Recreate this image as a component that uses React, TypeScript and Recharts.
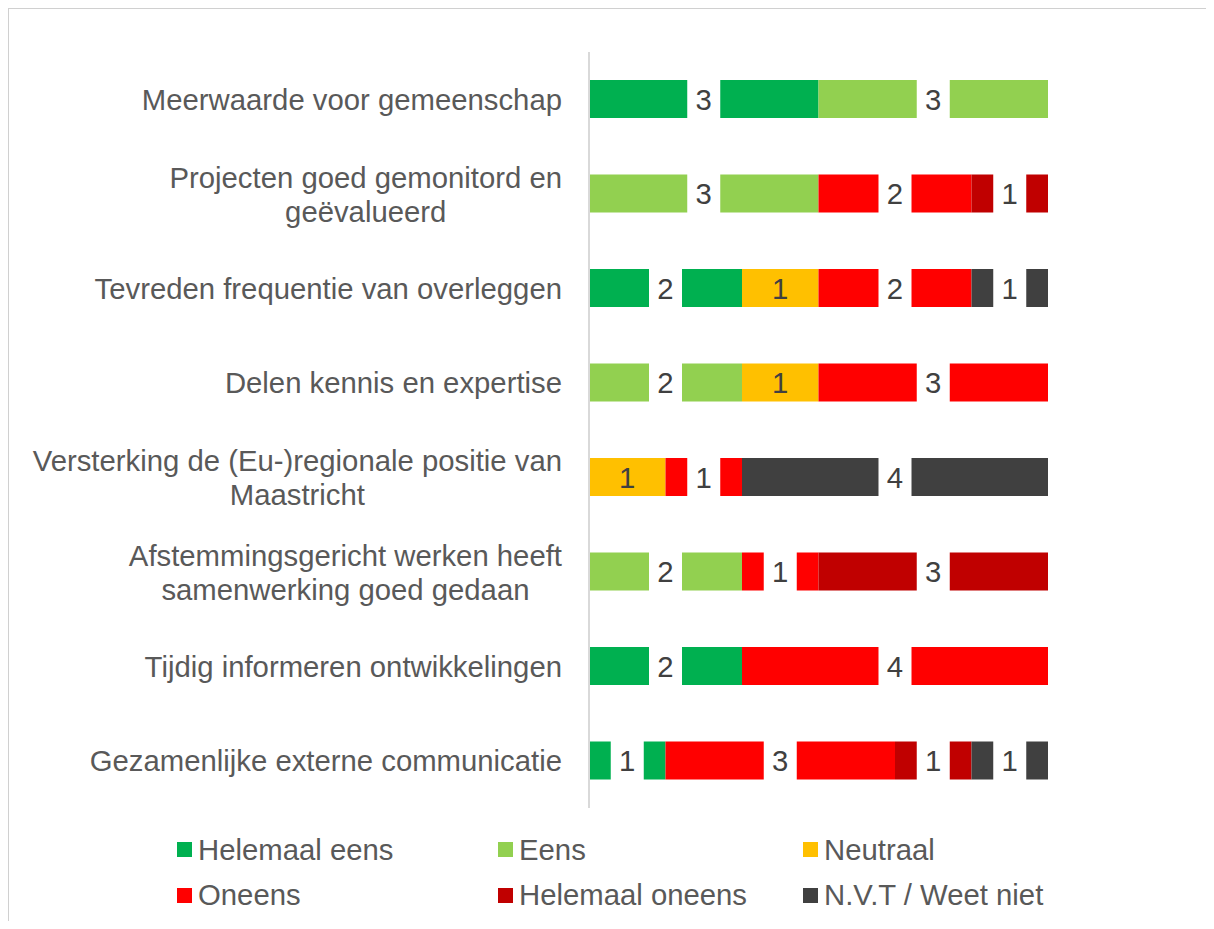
import { BarChart, Bar, XAxis, YAxis, Legend, LabelList } from 'recharts';

const categories = [
  'Meerwaarde voor gemeenschap',
  'Projecten goed gemonitord en\ngeëvalueerd',
  'Tevreden frequentie van overleggen',
  'Delen kennis en expertise',
  'Versterking de (Eu-)regionale positie van\nMaastricht',
  'Afstemmingsgericht werken heeft\nsamenwerking goed gedaan',
  'Tijdig informeren ontwikkelingen',
  'Gezamenlijke externe communicatie',
];

const helemaalEens = [3, 0, 2, 0, 0, 0, 2, 1];
const eens = [3, 3, 0, 2, 0, 2, 0, 0];
const neutraal = [0, 0, 1, 1, 1, 0, 0, 0];
const oneens = [0, 2, 2, 3, 1, 1, 4, 3];
const helemaalOneens = [0, 1, 0, 0, 0, 3, 0, 1];
const nvt = [0, 0, 1, 0, 4, 0, 0, 1];

const series = [
  { key: 'he', name: 'Helemaal eens', values: helemaalEens, color: '#00B050' },
  { key: 'e', name: 'Eens', values: eens, color: '#92D050' },
  { key: 'n', name: 'Neutraal', values: neutraal, color: '#FFC000' },
  { key: 'o', name: 'Oneens', values: oneens, color: '#FF0000' },
  { key: 'ho', name: 'Helemaal oneens', values: helemaalOneens, color: '#C00000' },
  { key: 'nvt', name: 'N.V.T / Weet niet', values: nvt, color: '#404040' },
];

const data = categories.map((name, i) => {
  const row: any = { name };
  series.forEach((s) => (row[s.key] = s.values[i]));
  return row;
});

const FONT = '"Liberation Sans", Arial, sans-serif';
const FS = 29.3;

let ctx: CanvasRenderingContext2D | null = null;
function measure(t: string) {
  if (!ctx) ctx = document.createElement('canvas').getContext('2d');
  if (!ctx) return t.length * 14;
  ctx.font = `${FS}px ${FONT}`;
  return ctx.measureText(t).width;
}

const CategoryTick = (props: any) => {
  const { y, payload } = props;
  const lines: string[] = String(payload.value).split('\n');
  const right = 553;
  if (lines.length === 1) {
    return (
      <text x={right} y={y} textAnchor="end" dominantBaseline="central" fill="#595959" fontSize={FS} fontFamily={FONT}>
        {lines[0]}
      </text>
    );
  }
  const cx = right - measure(lines[0]) / 2;
  return (
    <text x={cx} y={y} textAnchor="middle" dominantBaseline="central" fill="#595959" fontSize={FS} fontFamily={FONT}>
      {lines.map((l, i) => (
        <tspan key={i} x={cx} dy={i === 0 ? -17 : 34}>
          {l}
        </tspan>
      ))}
    </text>
  );
};

const makeLabel = (boxed: boolean) => (props: any) => {
  const { x, y, width, height, value } = props;
  if (!value) return null;
  const cx = Number(x) + Number(width) / 2;
  const cy = Number(y) + Number(height) / 2;
  return (
    <g>
      {boxed && <rect x={cx - 16.5} y={Number(y) - 1} width={33} height={Number(height) + 2} fill="#ffffff" />}
      <text x={cx} y={cy} textAnchor="middle" dominantBaseline="central" fill="#404040" fontSize={FS} fontFamily={FONT}>
        {value}
      </text>
    </g>
  );
};

const legendCols = [168, 489, 794];
const legendRows = [840.5, 886];

const LegendContent = () => (
  <div style={{ position: 'relative', width: 1205, height: 100 }}>
    {series.map((s, i) => {
      const col = i % 3;
      const row = Math.floor(i / 3);
      const top = legendRows[row] - 815;
      return (
        <div
          key={s.key}
          style={{
            position: 'absolute',
            left: legendCols[col],
            top: top - 20,
            height: 40,
            display: 'flex',
            alignItems: 'center',
            whiteSpace: 'nowrap',
          }}
        >
          <span style={{ width: 15, height: 15, background: s.color, display: 'inline-block', marginRight: 6 }} />
          <span style={{ fontSize: FS, color: '#595959', fontFamily: FONT, lineHeight: '40px' }}>{s.name}</span>
        </div>
      );
    })}
  </div>
);

export default function App() {
  return (
    <div
      style={{
        width: 1206,
        height: 913,
        borderTop: '1px solid #d0d0d0',
        borderLeft: '1px solid #d0d0d0',
        boxSizing: 'border-box',
        fontFamily: FONT,
        background: '#fff',
        overflow: 'hidden',
      }}
    >
      <BarChart
        width={1205}
        height={920}
        data={data}
        layout="vertical"
        margin={{ top: 43, right: 166, bottom: 121, left: 0 }}
      >
        <XAxis type="number" domain={[0, 6]} hide />
        <YAxis
          type="category"
          dataKey="name"
          width={580}
          tickLine={false}
          axisLine={{ stroke: '#d9d9d9', strokeWidth: 2 }}
          tick={<CategoryTick />}
          interval={0}
        />
        <Legend
          layout="horizontal"
          verticalAlign="middle"
          align="center"
          wrapperStyle={{ left: 0, top: 815, width: 1205, height: 100 }}
          content={<LegendContent />}
        />
        {series.map((s) => (
          <Bar key={s.key} dataKey={s.key} name={s.name} stackId="a" fill={s.color} barSize={38} isAnimationActive={false}>
            <LabelList dataKey={s.key} content={makeLabel(s.key !== 'n')} />
          </Bar>
        ))}
      </BarChart>
    </div>
  );
}
